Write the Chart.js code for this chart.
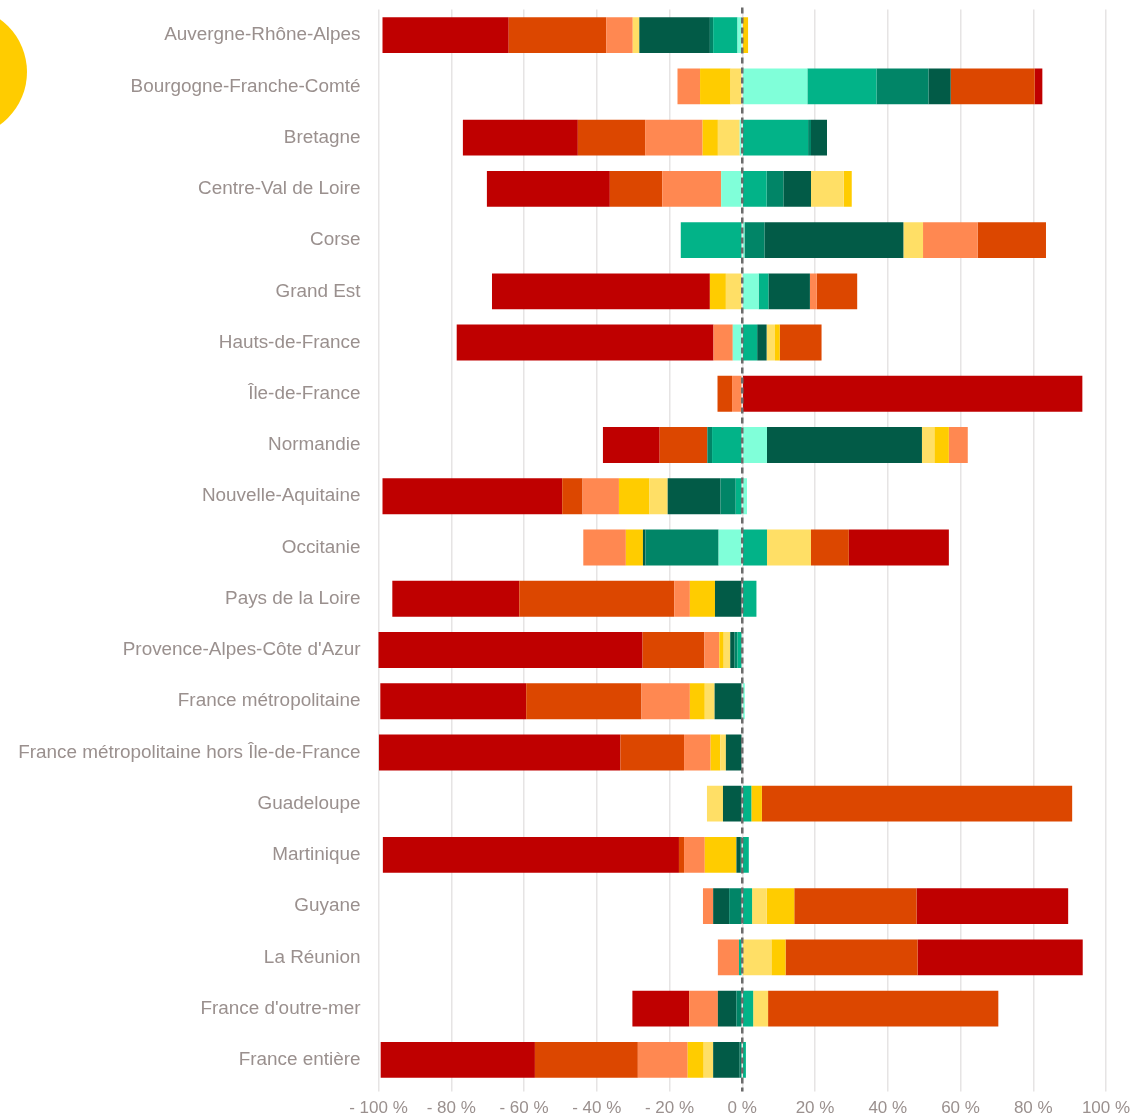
<!DOCTYPE html>
<html lang="fr">
<head>
<meta charset="utf-8">
<script src="https://cdn.jsdelivr.net/npm/chart.js@4"></script>
<style>
  html, body { margin: 0; padding: 0; background: #ffffff; }
  #wrap { position: relative; width: 1140px; height: 1116px; overflow: hidden; }
  canvas { display: block; }
</style>
</head>
<body>
<div id="wrap"><canvas id="c" width="1140" height="1116"></canvas></div>
<script>
// Categories (regions)
const regions = [
  "Auvergne-Rhône-Alpes", "Bourgogne-Franche-Comté", "Bretagne", "Centre-Val de Loire",
  "Corse", "Grand Est", "Hauts-de-France", "Île-de-France", "Normandie",
  "Nouvelle-Aquitaine", "Occitanie", "Pays de la Loire", "Provence-Alpes-Côte d'Azur",
  "France métropolitaine", "France métropolitaine hors Île-de-France", "Guadeloupe",
  "Martinique", "Guyane", "La Réunion", "France d'outre-mer", "France entière"
];

// Series values (signed shares, %), one value per region, stacked outward from 0
const serieAigue    = [-1.3, 17.9, -0.7, -5.8,   0.6,   4.5, -2.6,  0,    6.8,   1.3, -6.5,   0,    0,    0.7,  0,    0,    0,    0,    0,    0,    0];
const serieTurquoise= [-6.7, 19.0, 18.1,  6.7, -16.9,   2.7,  4.1,  0,   -8.3,  -1.8,  6.8,   3.9, -1.3,  0,    0,    2.5,  1.8,  2.7, -0.9,  3.0,  1.0];
const serieVert     = [-0.9, 14.3,  0.8,  4.6,   5.5,   0,    0,    0,   -1.3,  -4.2,-20.1,   0,   -0.8,  0,    0,    0,   -0.6, -3.6,  0,   -1.6, -0.7];
const serieVertFonce= [-19.4, 6.1,  4.4,  7.6,  38.2,  11.4,  2.6,  0,   42.6, -14.5, -0.7,  -7.5, -1.2, -7.6, -4.5, -5.3, -1.0, -4.4,  0,   -5.1, -7.3];
const serieJaunePale= [-1.8, -3.2, -6.0,  9.0,   5.4,  -4.5,  2.3,  0,    3.4,  -5.0, 12.1,   0,   -1.8, -2.7, -1.5, -4.4,  0,    4.0,  8.0,  4.1, -2.6];
const serieJaune    = [ 1.6, -8.4, -4.2,  2.2,   0,    -4.4,  1.3,  0,    4.0,  -8.4, -4.7,  -6.9, -1.2, -4.1, -2.7,  2.9, -8.7,  7.6,  3.9,  0,   -4.4];
const serieSaumon   = [-7.3, -6.2,-15.8,-16.2,  15.0,   1.9, -5.3, -2.8,  5.2, -10.0,-11.7,  -4.3, -4.1,-13.3, -7.3,  0,   -5.7, -2.8, -5.8, -7.9,-13.7];
const serieOrange   = [-26.8,23.1,-18.5,-14.4,  18.8,  11.1, 11.5, -4.0,-13.1,  -5.6, 10.4, -42.6,-17.0,-31.7,-17.5, 85.3, -1.4, 33.6, 36.3, 63.3,-28.3];
const serieRouge    = [-34.7, 2.1,-31.6,-33.8,   0,   -59.9,-70.6, 93.5,-15.6, -49.4, 27.5, -34.9,-73.0,-40.1,-66.4,  0,  -81.4, 41.7, 45.4,-15.6,-42.4];

// Tick values of the x axis
const xTicks = [-100, -80, -60, -40, -20, 0, 20, 40, 60, 80, 100];

const seriesList = [
  { label: "Catégorie 1", data: serieAigue,     color: "#80ffd9" },
  { label: "Catégorie 2", data: serieTurquoise, color: "#02b388" },
  { label: "Catégorie 3", data: serieVert,      color: "#018567" },
  { label: "Catégorie 4", data: serieVertFonce, color: "#025b47" },
  { label: "Catégorie 5", data: serieJaunePale, color: "#ffdf66" },
  { label: "Catégorie 6", data: serieJaune,     color: "#ffcc00" },
  { label: "Catégorie 7", data: serieSaumon,    color: "#ff8851" },
  { label: "Catégorie 8", data: serieOrange,    color: "#dc4700" },
  { label: "Catégorie 9", data: serieRouge,     color: "#bf0000" }
];

const textColor = "#9a908e";

const decoPlugin = {
  id: "deco",
  beforeDraw(chart) {
    const ctx = chart.ctx;
    ctx.save();
    ctx.fillStyle = "#ffcc00";
    ctx.beginPath();
    ctx.arc(-38, 72, 65, 0, Math.PI * 2);
    ctx.fill();
    ctx.restore();
  },
  afterDatasetsDraw(chart) {
    const ctx = chart.ctx;
    const x = chart.scales.x.getPixelForValue(0);
    ctx.save();
    ctx.strokeStyle = "#6b6b6b";
    ctx.lineWidth = 2.5;
    ctx.setLineDash([6, 4]);
    ctx.beginPath();
    ctx.moveTo(x, chart.chartArea.top - 2);
    ctx.lineTo(x, chart.chartArea.bottom + 6);
    ctx.stroke();
    ctx.restore();
  }
};

new Chart(document.getElementById("c"), {
  type: "bar",
  data: {
    labels: regions,
    datasets: seriesList.map(s => ({
      label: s.label,
      data: s.data,
      backgroundColor: s.color,
      borderWidth: 0,
      barPercentage: 0.7,
      categoryPercentage: 1.0
    }))
  },
  options: {
    indexAxis: "y",
    responsive: false,
    animation: false,
    layout: { padding: { top: 9.5, right: 34, bottom: 0, left: 0 } },
    plugins: { legend: { display: false }, tooltip: { enabled: false } },
    scales: {
      x: {
        stacked: true,
        min: -100,
        max: 100,
        afterBuildTicks(scale) { scale.ticks = xTicks.map(v => ({ value: v })); },
        afterFit(scale) { scale.height = 30.5; scale.paddingLeft = 0; scale.paddingRight = 0; },
        grid: { color: "#e6e4e4", lineWidth: 1.5, tickLength: 6, drawTicks: true },
        border: { display: false },
        ticks: {
          padding: 7,
          color: textColor,
          font: { family: "'Liberation Sans', Arial, sans-serif", size: 17 },
          callback: v => (v < 0 ? "- " + Math.abs(v) + " %" : v + " %")
        }
      },
      y: {
        stacked: true,
        afterFit(scale) { scale.width = 378.5; scale.paddingTop = 0; scale.paddingBottom = 0; },
        grid: { display: false, drawTicks: false },
        border: { display: false },
        ticks: {
          padding: 18,
          color: textColor,
          font: { family: "'Liberation Sans', Arial, sans-serif", size: 18.9 }
        }
      }
    }
  },
  plugins: [decoPlugin]
});
</script>
</body>
</html>
